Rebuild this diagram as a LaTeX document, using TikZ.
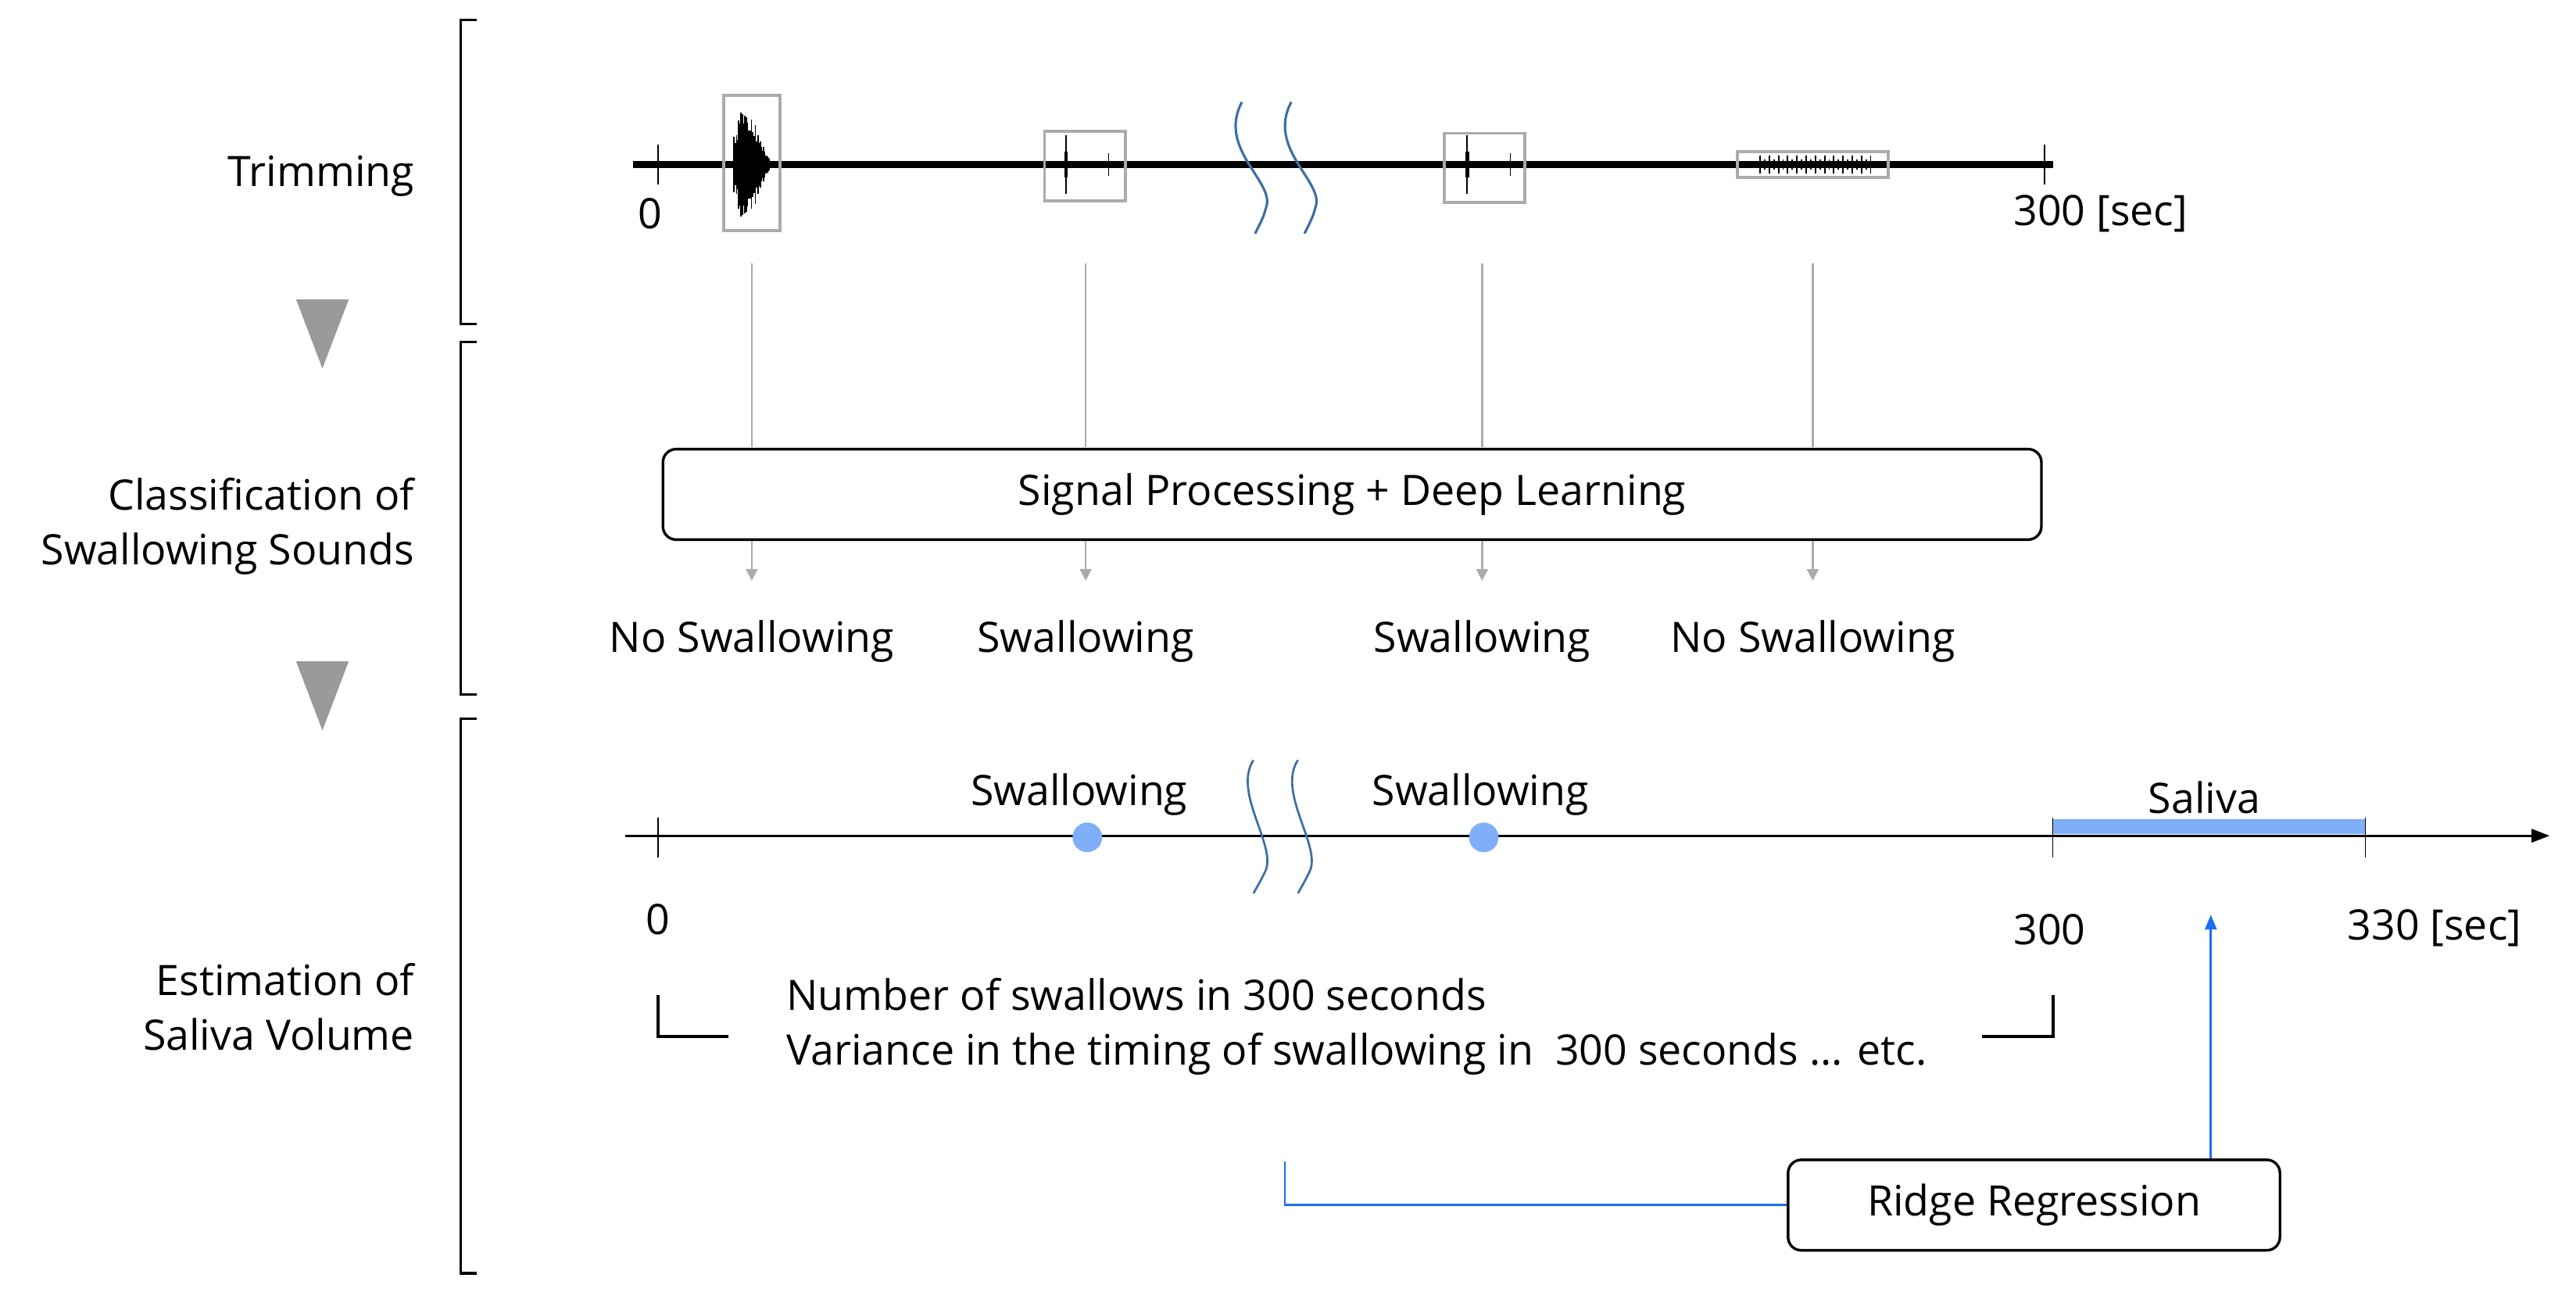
\documentclass[tikz,border=0pt]{standalone}
\usepackage{fontspec}
\setmainfont{Open Sans}
\usetikzlibrary{arrows.meta}
\definecolor{wavyblue}{HTML}{3F6FA0}
\definecolor{dotblue}{HTML}{7FB0F7}
\definecolor{lineblue}{HTML}{1A6EF5}
\definecolor{boxgray}{HTML}{ABABAB}
\tikzset{
  lbl/.style={font=\fontsize{25.5}{30}\selectfont, inner sep=0pt},
  sect/.style={line width=1.6pt},
  tri/.style={fill=boxgray!90!black, draw=none},
  cut/.style={wavyblue, line width=1.5pt},
  clip box/.style={draw=boxgray, line width=1.8pt},
  feed/.style={boxgray, line width=1.2pt},
  stage/.style={draw, rounded corners=8pt, line width=1.6pt, minimum height=55pt},
  event/.style={fill=dotblue, draw=none, circle, minimum size=18pt, inner sep=0pt},
}
\begin{document}
\begin{tikzpicture}[x=1pt, y=-1pt]
\useasboundingbox (0,0) rectangle (1566,791.6);
% section brackets
\draw[sect] (290,12) -- (280,12) -- (280,197) -- (290,197);
\draw[sect] (290,208) -- (280,208) -- (280,422) -- (290,422);
\draw[sect] (290,437) -- (280,437) -- (280,774) -- (290,774);
\node[lbl, anchor=east] (trim) at (252,107) {Trimming};
\node[lbl, anchor=east, align=right] (classify) at (252,320) {Classification of\\[3pt]Swallowing Sounds};
\node[lbl, anchor=east, align=right] (estimate) at (252,612) {Estimation of\\[3pt]Saliva Volume};
\fill[tri] (180,182) -- (212,182) -- (196,224) -- cycle;
\fill[tri] (180,402) -- (212,402) -- (196,444) -- cycle;

% trimming timeline
\coordinate (t0) at (385,100);
\coordinate (t1) at (1248,100);
\draw[line width=4pt] (t0) -- (t1);
\draw[line width=1pt] (400,88) -- (400,112);
\draw[line width=1pt] (1243,88) -- (1243,112);
\node[lbl] (zeroA) at (395,130) {0};
\node[lbl] (endA) at (1277,130) {300 [sec]};
% waveforms
\pgfmathsetseed{7}
\foreach \i in {0,...,40}{
  \pgfmathsetmacro\xx{446+0.6*\i}
  \pgfmathsetmacro\aa{(0.5+0.5*rnd)*38*exp(-((\i-13)/15)^2)}
  \draw[line width=0.9pt] (\xx,100-\aa) -- (\xx,100+\aa);
}
\foreach \xs in {648,892}{
  \draw[line width=1pt] (\xs,82) -- (\xs,118);
  \draw[line width=2pt] (\xs,92) -- (\xs,108);
  \draw[line width=0.6pt] (\xs+26,93) -- (\xs+26,107);
}
\foreach \i in {0,...,24}{
  \pgfmathsetmacro\xx{1070+2.8*\i}
  \pgfmathsetmacro\aa{mod(\i,2)==0 ? 5.5 : 3}
  \draw[line width=0.9pt] (\xx,100-\aa) -- (\xx,100+\aa);
}
\draw[clip box] (440,58) rectangle (474,140);
\draw[clip box] (635,80) rectangle (684,122);
\draw[clip box] (878,81) rectangle (927,123);
\draw[clip box] (1056,92) rectangle (1148,108);
\foreach \xc in {760,790}
  \draw[cut] (\xc-5,62) .. controls (\xc-20,90) and (\xc+14,110) .. (\xc+10,125) .. controls (\xc+8,132) .. (\xc+3,142);

% classification
\node[stage, minimum width=838pt, lbl, minimum height=55pt] (dl) at (822,300.5) {Signal Processing + Deep Learning};
\foreach \xc/\txt/\nm in {457/No Swallowing/a, 660/Swallowing/b, 901/Swallowing/c, 1102/No Swallowing/d}{
  \draw[feed] (\xc,160) -- (\xc,272);
  \draw[feed, -{Triangle[length=7pt,width=7pt]}] (\xc,329) -- (\xc,353);
  \node[lbl] (res\nm) at (\xc,390) {\txt};
}

% estimation timeline
\coordinate (s0) at (380,508);
\coordinate (s1) at (1550,508);
\fill[dotblue] (1248,498) rectangle (1438,507);
\draw[line width=1.4pt, -{Triangle[length=11pt,width=8pt]}] (s0) -- (s1);
\foreach \xt in {400,1248,1438}
  \draw[line width=0.7pt] (\xt,497) -- (\xt,521);
\foreach \xc in {765,792}
  \draw[cut, line width=1.3pt] (\xc-3,462) .. controls (\xc-16,482) and (\xc+12,515) .. (\xc+4,530) .. controls (\xc+1,536) .. (\xc-3,543);
\node[event] (swA) at (661,509) {};
\node[event] (swB) at (902,509) {};
\node[lbl] (swAl) at (656,483) {Swallowing};
\node[lbl] (swBl) at (900,483) {Swallowing};
\node[lbl] (sal) at (1340,485) {Saliva};
\node[lbl] (zeroB) at (400,559) {0};
\node[lbl] (mid) at (1246,565) {300};
\node[lbl] (endB) at (1480,564) {330 [sec]};
\node[lbl, anchor=west, align=left] (feat) at (478,624) {Number of swallows in 300 seconds\\[3pt]Variance in the timing of swallowing in\ \ 300 seconds ... etc.};
\draw[line width=1.8pt] (400,605) -- (400,630) -- (443,630);
\draw[line width=1.8pt] (1205,630) -- (1248,630) -- (1248,605);
\node[stage, lbl, minimum width=299pt] (ridge) at (1236.5,732.5) {Ridge Regression};
\coordinate (featin) at (781,706);
\coordinate (salin) at (1344,556);
\draw[lineblue, line width=1.2pt] (ridge.west) -- (ridge.west -| featin) -- (featin);
\draw[lineblue, line width=1.6pt, -{Triangle[length=9pt,width=7pt]}] (ridge.north -| salin) -- (salin);
\end{tikzpicture}
\end{document}
